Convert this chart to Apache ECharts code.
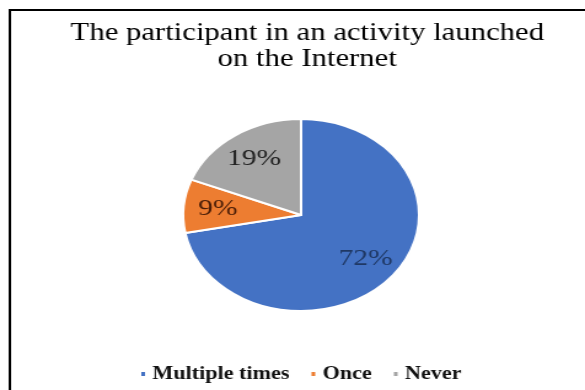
<!DOCTYPE html>
<html>
<head>
<meta charset="utf-8">
<script src="https://cdn.jsdelivr.net/npm/echarts@6/dist/echarts.min.js"></script>
<style>
html,body{margin:0;padding:0;background:#fff;overflow:hidden;width:585px;height:390px;}
#wrap{width:585px;height:390px;overflow:hidden;position:relative;}
#chart{width:476px;height:390px;transform:scaleX(1.229);transform-origin:0 0;}
</style>
</head>
<body>
<div id="wrap"><div id="chart"></div></div>
<script>
const titleText = 'The participant in an activity launched\non the Internet';
const categories = ['Multiple times', 'Once', 'Never'];
const values = [72, 9, 19];
const colors = ['#4472C4', '#ED7D31', '#A5A5A5'];
const labelColors = ['#1F3864', '#4A1E08', '#222222'];

const chart = echarts.init(document.getElementById('chart'));
const pieData = categories.map((c, i) => ({
  name: c, value: values[i],
  itemStyle: { color: colors[i] }
}));
const labelData = categories.map((c, i) => ({
  name: c, value: values[i],
  label: { color: labelColors[i] }
}));
chart.setOption({
  backgroundColor: '#fff',
  animation: false,
  title: {
    text: titleText,
    left: 245, top: 15, textAlign: 'center',
    textStyle: { fontFamily: 'Liberation Serif', fontSize: 25, lineHeight: 26, fontWeight: 'normal', color: '#000' }
  },
  graphic: [{
    type: 'rect', z: -1, silent: true,
    shape: { x: 8, y: 10, width: 600, height: 420 },
    style: { fill: 'none', stroke: '#000', lineWidth: 2 }
  }],
  legend: {
    data: categories.map((c, i) => ({ name: c, itemStyle: { color: colors[i] } })),
    left: 108, top: 360,
    icon: 'rect', itemWidth: 5, itemHeight: 6, itemGap: 16,
    textStyle: { fontFamily: 'Liberation Serif', fontSize: 18, fontWeight: 'bold', color: '#111' }
  },
  series: [{
    type: 'pie', center: [245, 215], radius: 96,
    startAngle: 90, clockwise: true,
    label: { show: false }, labelLine: { show: false },
    itemStyle: { borderColor: '#fff', borderWidth: 2 },
    data: pieData
  }, {
    type: 'pie', center: [245, 215], radius: [34, 96],
    startAngle: 90, clockwise: true, silent: true,
    itemStyle: { color: 'rgba(0,0,0,0)' },
    label: { show: true, position: 'inside', formatter: '{d}%', fontFamily: 'Liberation Serif', fontSize: 24 },
    labelLine: { show: false },
    data: labelData
  }]
});
</script>
</body>
</html>
